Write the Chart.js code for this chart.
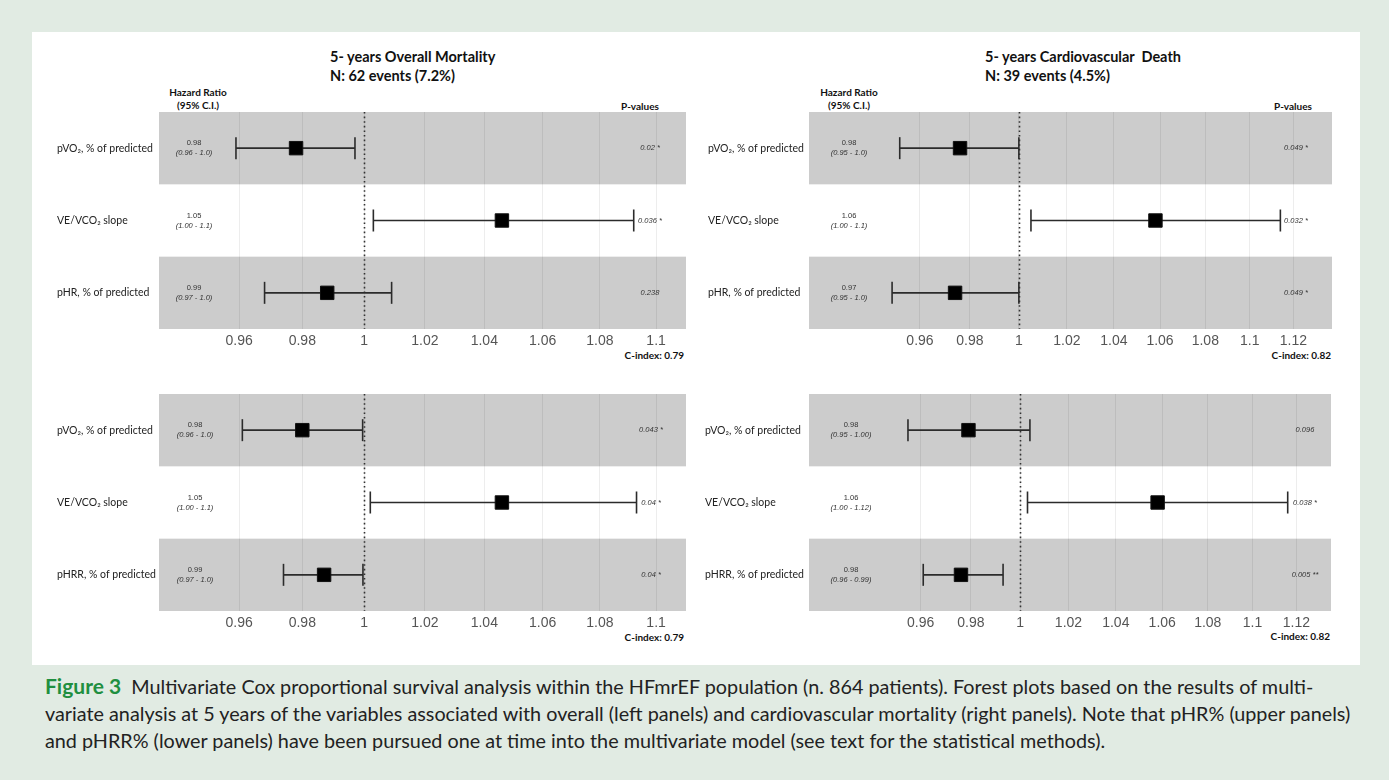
<!DOCTYPE html>
<html>
<head>
<meta charset="utf-8">
<script src="https://cdn.jsdelivr.net/npm/chart.js@4.4.1/dist/chart.umd.min.js"></script>
<style>
  html, body { margin: 0; padding: 0; }
  body { width: 1389px; height: 780px; background: #e1ebe3; position: relative; overflow: hidden; font-family: Lato, "Open Sans", sans-serif; }
  #sheet { position: absolute; left: 32px; top: 32px; width: 1328px; height: 633px; background: #fff; }
  canvas { position: absolute; }
  .t { position: absolute; white-space: nowrap; color: #111; line-height: 1; }
  .title { font-weight: bold; font-size: 14.5px; transform: translateY(-50%); }
  .head { font-weight: bold; font-size: 10px; transform: translate(-50%, -50%); }
  .cidx { font-weight: bold; font-size: 10px; transform: translate(-100%, -50%); }
  .caption { position: absolute; left: 45px; top: 672px; font-size: 19.8px; line-height: 27px; color: #222; white-space: nowrap; }
  .caption b { color: #1f8f40; font-size: 21px; }
</style>
</head>
<body>
<div id="sheet"></div>

<div class="t title" style="left:330px; top:57px">5- years Overall Mortality</div>
<div class="t title" style="left:330px; top:76px">N: 62 events (7.2%)</div>
<div class="t title" style="left:985px; top:57px">5- years Cardiovascular&nbsp; Death</div>
<div class="t title" style="left:985px; top:76px">N: 39 events (4.5%)</div>

<div class="t head" style="left:198px; top:92px">Hazard Ratio</div>
<div class="t head" style="left:198px; top:105px">(95% C.I.)</div>
<div class="t head" style="left:640px; top:106px">P-values</div>
<div class="t head" style="left:849px; top:92px">Hazard Ratio</div>
<div class="t head" style="left:849px; top:105px">(95% C.I.)</div>
<div class="t head" style="left:1293px; top:106px">P-values</div>

<div class="t cidx" style="left:684px; top:355px">C-index: 0.79</div>
<div class="t cidx" style="left:1331px; top:355px">C-index: 0.82</div>
<div class="t cidx" style="left:684px; top:637px">C-index: 0.79</div>
<div class="t cidx" style="left:1330px; top:636px">C-index: 0.82</div>

<canvas id="overallUpper" width="649" height="255" style="left:57px; top:96px"></canvas>
<canvas id="cardioUpper" width="644" height="255" style="left:708px; top:96px"></canvas>
<canvas id="overallLower" width="649" height="255" style="left:57px; top:378px"></canvas>
<canvas id="cardioLower" width="646" height="255" style="left:705px; top:378px"></canvas>

<div class="caption"><b>Figure 3</b>&nbsp; Multivariate Cox proportional survival analysis within the HFmrEF population (n. 864 patients). Forest plots based on the results of multi-<br>variate analysis at 5 years of the variables associated with overall (left panels) and cardiovascular mortality (right panels). Note that pHR% (upper panels)<br>and pHRR% (lower panels) have been pursued one at time into the multivariate model (see text for the statistical methods).</div>

<script>
// axis ticks
const overallTicks = [0.96, 0.98, 1, 1.02, 1.04, 1.06, 1.08, 1.1];
const overallTickLabels = ['0.96', '0.98', '1', '1.02', '1.04', '1.06', '1.08', '1.1'];
const cardioTicks = [0.96, 0.98, 1, 1.02, 1.04, 1.06, 1.08, 1.1, 1.12];
const cardioTickLabels = ['0.96', '0.98', '1', '1.02', '1.04', '1.06', '1.08', '1.1', '1.12'];

// variables
const upperRows = ['pVO\u2082, % of predicted', 'VE/VCO\u2082 slope', 'pHR, % of predicted'];
const lowerRows = ['pVO\u2082, % of predicted', 'VE/VCO\u2082 slope', 'pHRR, % of predicted'];

// 5-years overall mortality, pHR model
const overallUpperHR = [0.978, 1.046, 0.988];
const overallUpperLow = [0.959, 1.003, 0.968];
const overallUpperHigh = [0.997, 1.092, 1.009];
const overallUpperHRText = ['0.98', '1.05', '0.99'];
const overallUpperCIText = ['(0.96 - 1.0)', '(1.00 - 1.1)', '(0.97 - 1.0)'];
const overallUpperP = ['0.02 *', '0.036 *', '0.238'];

// 5-years overall mortality, pHRR model
const overallLowerHR = [0.980, 1.046, 0.987];
const overallLowerLow = [0.961, 1.002, 0.974];
const overallLowerHigh = [0.9995, 1.093, 0.9996];
const overallLowerHRText = ['0.98', '1.05', '0.99'];
const overallLowerCIText = ['(0.96 - 1.0)', '(1.00 - 1.1)', '(0.97 - 1.0)'];
const overallLowerP = ['0.043 *', '0.04 *', '0.04 *'];

// 5-years cardiovascular death, pHR model
const cardioUpperHR = [0.976, 1.058, 0.974];
const cardioUpperLow = [0.952, 1.005, 0.949];
const cardioUpperHigh = [1.0, 1.114, 1.0];
const cardioUpperHRText = ['0.98', '1.06', '0.97'];
const cardioUpperCIText = ['(0.95 - 1.0)', '(1.00 - 1.1)', '(0.95 - 1.0)'];
const cardioUpperP = ['0.049 *', '0.032 *', '0.049 *'];

// 5-years cardiovascular death, pHRR model
const cardioLowerHR = [0.979, 1.058, 0.976];
const cardioLowerLow = [0.955, 1.003, 0.961];
const cardioLowerHigh = [1.004, 1.116, 0.993];
const cardioLowerHRText = ['0.98', '1.06', '0.98'];
const cardioLowerCIText = ['(0.95 - 1.00)', '(1.00 - 1.12)', '(0.96 - 0.99)'];
const cardioLowerP = ['0.096', '0.038 *', '0.005 **'];

Chart.defaults.font.family = 'Lato, "Open Sans", sans-serif';

const forestDecor = {
    id: 'forestDecor',
    beforeDraw: chart => {
        // grey bands behind the 1st and 3rd rows
        const ctx = chart.ctx, a = chart.chartArea, y = chart.scales.y;
        ctx.save();
        ctx.fillStyle = '#cccccc';
        [0, 2].forEach(i => {
            const y1 = y.getPixelForValue(i - 0.5), y2 = y.getPixelForValue(i + 0.5);
            ctx.fillRect(a.left, Math.min(y1, y2), a.right - a.left, Math.abs(y2 - y1));
        });
        ctx.restore();
    },
    beforeDatasetsDraw: chart => {
        // reference line at HR = 1
        const ctx = chart.ctx, a = chart.chartArea;
        const x = Math.round(chart.scales.x.getPixelForValue(1)) + 0.5;
        ctx.save();
        ctx.strokeStyle = '#333';
        ctx.lineWidth = 1.6;
        ctx.setLineDash([1.6, 3]);
        ctx.beginPath();
        ctx.moveTo(x, a.top);
        ctx.lineTo(x, a.bottom);
        ctx.stroke();
        ctx.restore();
    },
    afterDatasetsDraw: (chart, args, o) => {
        const ctx = chart.ctx, a = chart.chartArea, y = chart.scales.y;
        ctx.save();
        ctx.fillStyle = '#333';
        ctx.textAlign = 'center';
        ctx.textBaseline = 'middle';
        o.hrText.forEach((t, i) => {
            const py = y.getPixelForValue(i);
            ctx.font = '7.5px "Liberation Sans", Arial, sans-serif';
            ctx.fillText(t, a.left + o.hrOffset, py - 5);
            ctx.font = 'italic 7.5px "Liberation Sans", Arial, sans-serif';
            ctx.fillText(o.ciText[i], a.left + o.hrOffset, py + 5);
            ctx.fillText(o.pText[i], a.right - o.pOffset, py);
        });
        ctx.restore();
    }
};

function drawForest(id, rows, hr, low, high, hrText, ciText, pText, ticks, tickLabels, xMin, xMax, axisWidth, hrOffset, pOffset) {
    const datasets = [{
        type: 'scatter',
        data: hr.map((v, i) => ({ x: v, y: i })),
        pointStyle: 'rect',
        pointRadius: 9.5,
        backgroundColor: '#000',
        borderColor: '#111',
        borderWidth: 1
    }];
    rows.forEach((r, i) => {
        datasets.push({
            type: 'line',
            data: [{ x: low[i], y: i }, { x: high[i], y: i }],
            borderColor: '#2b2b2b',
            borderWidth: 1.6,
            pointStyle: 'line',
            rotation: 90,
            pointRadius: 11,
            pointBorderWidth: 1.6,
            pointBorderColor: '#2b2b2b'
        });
    });

    new Chart(document.getElementById(id), {
        data: { datasets: datasets },
        options: {
            responsive: false,
            maintainAspectRatio: false,
            animation: false,
            layout: { padding: { top: 16, right: 20, left: 0, bottom: 0 } },
            plugins: {
                legend: { display: false },
                tooltip: { enabled: false },
                forestDecor: { hrText: hrText, ciText: ciText, pText: pText, hrOffset: hrOffset, pOffset: pOffset }
            },
            scales: {
                x: {
                    type: 'logarithmic',
                    min: xMin,
                    max: xMax,
                    afterBuildTicks: s => { s.ticks = ticks.map(v => ({ value: v })); },
                    afterFit: s => { s.height = 22; },
                    grid: { color: 'rgba(0,0,0,0.07)', drawTicks: false },
                    border: { display: false },
                    ticks: {
                        autoSkip: false,
                        maxRotation: 0,
                        padding: 4,
                        color: '#555',
                        font: { family: '"Liberation Sans Narrow", "Liberation Sans", Arial, sans-serif', size: 14 },
                        callback: (v, i) => tickLabels[i]
                    }
                },
                y: {
                    type: 'linear',
                    reverse: true,
                    min: -0.5,
                    max: 2.5,
                    afterBuildTicks: s => { s.ticks = rows.map((r, i) => ({ value: i })); },
                    afterFit: s => { s.width = axisWidth; },
                    grid: { display: false },
                    border: { display: false },
                    ticks: {
                        crossAlign: 'far',
                        color: '#222',
                        font: { size: 10.5 },
                        callback: (v, i) => rows[i]
                    }
                }
            }
        },
        plugins: [forestDecor]
    });
}

drawForest('overallUpper', upperRows, overallUpperHR, overallUpperLow, overallUpperHigh,
    overallUpperHRText, overallUpperCIText, overallUpperP, overallTicks, overallTickLabels, 0.9352, 1.1108, 102, 35, 36);
drawForest('overallLower', lowerRows, overallLowerHR, overallLowerLow, overallLowerHigh,
    overallLowerHRText, overallLowerCIText, overallLowerP, overallTicks, overallTickLabels, 0.9352, 1.1108, 102, 36, 35);
drawForest('cardioUpper', upperRows, cardioUpperHR, cardioUpperLow, cardioUpperHigh,
    cardioUpperHRText, cardioUpperCIText, cardioUpperP, cardioTicks, cardioTickLabels, 0.917, 1.138, 101, 40, 36);
drawForest('cardioLower', lowerRows, cardioLowerHR, cardioLowerLow, cardioLowerHigh,
    cardioLowerHRText, cardioLowerCIText, cardioLowerP, cardioTicks, cardioTickLabels, 0.917, 1.136, 104, 42, 26);
</script>
</body>
</html>
